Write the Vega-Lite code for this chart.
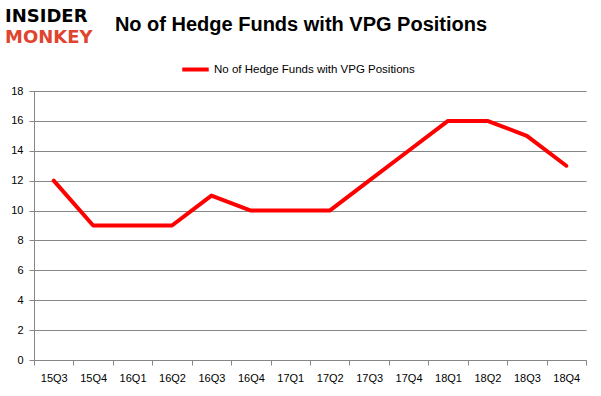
{
  "$schema": "https://vega.github.io/schema/vega-lite/v6.json",
  "width": 552,
  "height": 269,
  "autosize": "none",
  "padding": {"left": 34, "top": 91, "right": 15, "bottom": 36},
  "background": "white",
  "title": {
    "text": "No of Hedge Funds with VPG Positions",
    "anchor": "middle",
    "frame": "group",
    "dx": -9,
    "offset": -27,
    "font": "Liberation Sans",
    "fontSize": 20,
    "fontWeight": "bold",
    "color": "#000000"
  },
  "config": {
    "view": {"stroke": null},
    "font": "Liberation Sans"
  },
  "layer": [
    {
      "data": {
        "values": [
          {"quarter": "15Q3", "funds": 12, "series": "No of Hedge Funds with VPG Positions"},
          {"quarter": "15Q4", "funds": 9, "series": "No of Hedge Funds with VPG Positions"},
          {"quarter": "16Q1", "funds": 9, "series": "No of Hedge Funds with VPG Positions"},
          {"quarter": "16Q2", "funds": 9, "series": "No of Hedge Funds with VPG Positions"},
          {"quarter": "16Q3", "funds": 11, "series": "No of Hedge Funds with VPG Positions"},
          {"quarter": "16Q4", "funds": 10, "series": "No of Hedge Funds with VPG Positions"},
          {"quarter": "17Q1", "funds": 10, "series": "No of Hedge Funds with VPG Positions"},
          {"quarter": "17Q2", "funds": 10, "series": "No of Hedge Funds with VPG Positions"},
          {"quarter": "17Q3", "funds": 12, "series": "No of Hedge Funds with VPG Positions"},
          {"quarter": "17Q4", "funds": 14, "series": "No of Hedge Funds with VPG Positions"},
          {"quarter": "18Q1", "funds": 16, "series": "No of Hedge Funds with VPG Positions"},
          {"quarter": "18Q2", "funds": 16, "series": "No of Hedge Funds with VPG Positions"},
          {"quarter": "18Q3", "funds": 15, "series": "No of Hedge Funds with VPG Positions"},
          {"quarter": "18Q4", "funds": 13, "series": "No of Hedge Funds with VPG Positions"}
        ]
      },
      "mark": {"type": "line", "strokeWidth": 4, "strokeCap": "round", "strokeJoin": "round"},
      "encoding": {
        "x": {
          "field": "quarter",
          "type": "ordinal",
          "sort": null,
          "bandPosition": 0.5,
          "scale": {"type": "band", "paddingInner": 0, "paddingOuter": 0},
          "axis": {
            "title": null,
            "labelAngle": 0,
            "labelFont": "Liberation Sans",
            "labelFontSize": 11,
            "labelColor": "#000000",
            "labelPadding": 7,
            "tickBand": "extent",
            "tickSize": 5,
            "tickColor": "#868686",
            "domainColor": "#868686",
            "grid": false
          }
        },
        "y": {
          "field": "funds",
          "type": "quantitative",
          "scale": {"domain": [0, 18]},
          "axis": {
            "title": null,
            "values": [0, 2, 4, 6, 8, 10, 12, 14, 16, 18],
            "labelFont": "Liberation Sans",
            "labelFontSize": 11,
            "labelColor": "#000000",
            "labelPadding": 6,
            "tickSize": 5,
            "tickColor": "#868686",
            "domainColor": "#868686",
            "grid": true,
            "gridColor": "#868686",
            "gridWidth": 1
          }
        },
        "color": {
          "field": "series",
          "type": "nominal",
          "scale": {"range": ["#ff0000"]},
          "legend": {
            "title": null,
            "orient": "none",
            "legendX": 146,
            "legendY": -37,
            "symbolType": "stroke",
            "symbolSize": 700,
            "symbolStrokeWidth": 4,
            "labelFont": "Liberation Sans",
            "labelFontSize": 11.5,
            "labelColor": "#000000",
            "labelOffset": 3,
            "labelLimit": 400
          }
        }
      }
    },
    {
      "data": {"values": [{"word": "INSIDER"}]},
      "mark": {"type": "text", "align": "left", "baseline": "top", "font": "DejaVu Sans", "fontWeight": "bold", "fontSize": 18, "color": "#000000"},
      "encoding": {
        "text": {"field": "word"},
        "x": {"value": -29},
        "y": {"value": -83}
      }
    },
    {
      "data": {"values": [{"word": "MONKEY"}]},
      "mark": {"type": "text", "align": "left", "baseline": "top", "font": "DejaVu Sans", "fontWeight": "bold", "fontSize": 18, "color": "#e0432e"},
      "encoding": {
        "text": {"field": "word"},
        "x": {"value": -29},
        "y": {"value": -62}
      }
    }
  ]
}
